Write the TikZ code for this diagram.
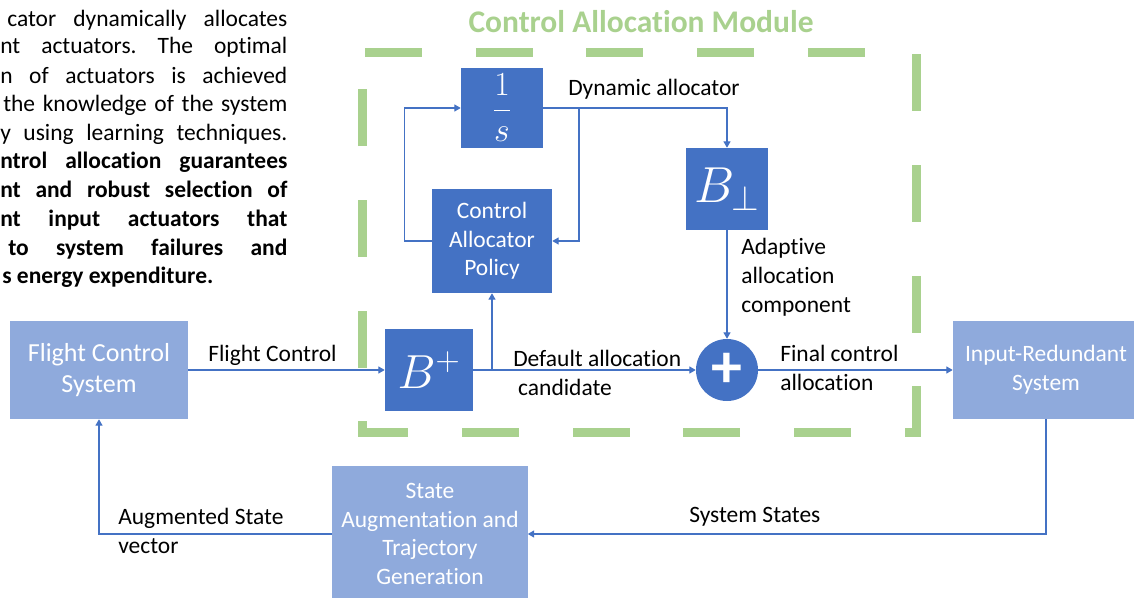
\documentclass[tikz,border=0pt]{standalone}
\usepackage{fix-cm}
\usepackage{fontspec}
\setmainfont{Carlito}[Ligatures=NoCommon]
\usetikzlibrary{arrows.meta}
\definecolor{blk}{HTML}{4472C4}
\definecolor{pale}{HTML}{8FAADC}
\definecolor{grn}{HTML}{A9D18E}
\frenchspacing

\begin{document}
\begin{tikzpicture}[x=0.025cm, y=-0.025cm,
  font=\fontsize{16.7}{20.3}\selectfont,
  blockd/.style={fill=blk, text=white, inner sep=0pt, align=center},
  blockl/.style={fill=pale, text=white, inner sep=0pt, align=center},
  lbl/.style={anchor=base west, inner sep=0pt, align=left},
  para/.style={anchor=base west, inner sep=0pt},
  arr/.style={-{Triangle[length=4.5pt, width=5pt]}, line width=0.8pt, blk},
  frame/.style={grn, line width=6.4pt, dash pattern=on 40.4pt off 38.3pt, dash phase=76.5pt}
]
  \useasboundingbox (0,0) rectangle (1134,598);

  % text column on the left
  \node[para] (p1) at (7,26) {\makebox[7.0cm][s]{cator dynamically allocates}};
  \node[para] (p2) at (0,54) {\makebox[7.175cm][s]{nt actuators. The optimal}};
  \node[para] (p3) at (0,83) {\makebox[7.175cm][s]{n of actuators is achieved}};
  \node[para] (p4) at (3,111) {\makebox[7.1cm][s]{the knowledge of the system}};
  \node[para] (p5) at (0,140) {\makebox[7.175cm][s]{y using learning techniques.}};
  \node[para] (p6) at (0,168) {\bfseries\makebox[7.175cm][s]{ntrol allocation guarantees}};
  \node[para] (p7) at (0,197) {\bfseries\makebox[7.175cm][s]{nt and robust selection of}};
  \node[para] (p8) at (0,226) {\bfseries\makebox[7.175cm][s]{nt input actuators that}};
  \node[para] (p9) at (8,255) {\bfseries\makebox[6.975cm][s]{to system failures and}};
  \node[para] (p10) at (2,283) {\bfseries s energy expenditure.};

  % module frame
  \draw[frame] (362,52) -- (916,52) -- (916,432) -- (362,432) -- cycle;
  \node[anchor=base, text=grn, font=\fontsize{22.4}{26}\selectfont\bfseries] (title) at (641,32) {Control Allocation Module};

  % blocks
  \node[blockd, minimum width=2.05cm, minimum height=2cm] (integ) at (502,108) {\fontsize{24}{28}\selectfont$\displaystyle\frac{1}{s}$};
  \node[blockd, minimum width=3cm, minimum height=2.6cm] (policy) at (492,241) {Control\\Allocator\\Policy};
  \node[blockd, minimum width=2.03cm, minimum height=2.05cm] (bperp) at (727,189) {\fontsize{36}{40}\selectfont$B_{\perp}$};
  \node[blockd, minimum width=2.2cm, minimum height=2.03cm] (bplus) at (429,370) {\fontsize{34}{40}\selectfont$B^{+}$};
  \node[blockd, circle, minimum size=1.55cm] (sum) at (727,370) {\fontsize{44}{44}\selectfont\bfseries +};
  \node[blockl, minimum width=4.45cm, minimum height=2.45cm, font=\fontsize{18.5}{22.6}\selectfont] (fcs) at (99,370) {Flight Control\\System};
  \node[blockl, minimum width=4.65cm, minimum height=2.45cm] (inred) at (1046,370) {Input-Redundant\\System};
  \node[blockl, minimum width=4.875cm, minimum height=3.4cm] (aug) at (430,534) {State\\Augmentation and\\Trajectory\\Generation};

  \coordinate (tap) at (579,108);
  \coordinate (split) at (492,370);

  % connectors
  \draw[arr] (fcs) -- (bplus);
  \draw[arr] (bplus) -- (sum);
  \draw[arr] (split) -- (policy);
  \draw[arr] (policy.west) -- ++(-27,0) |- (integ.west);
  \draw[arr] (integ.east) -| (bperp.north);
  \draw[arr] (tap) |- (policy.east);
  \draw[arr] (bperp) -- (sum);
  \draw[arr] (sum) -- (inred);
  \draw[arr] (inred.south) |- (aug.east);
  \draw[arr] (aug.west) -| (fcs.south);

  % connector labels (base = last line)
  \node[lbl] (lfc) at (208,361) {Flight Control};
  \node[lbl] (ldyn) at (568,95) {Dynamic allocator};
  \node[lbl] (ldef) at (513,395) {Default allocation\\\hspace*{3.5pt}candidate};
  \node[lbl] (ladp) at (741,312) {Adaptive\\allocation\\component};
  \node[lbl] (lfin) at (780,390) {Final control\\allocation};
  \node[lbl] (lsys) at (689,522) {System States};
  \node[lbl] (laug) at (118,553) {Augmented State\\vector};
\end{tikzpicture}
\end{document}
